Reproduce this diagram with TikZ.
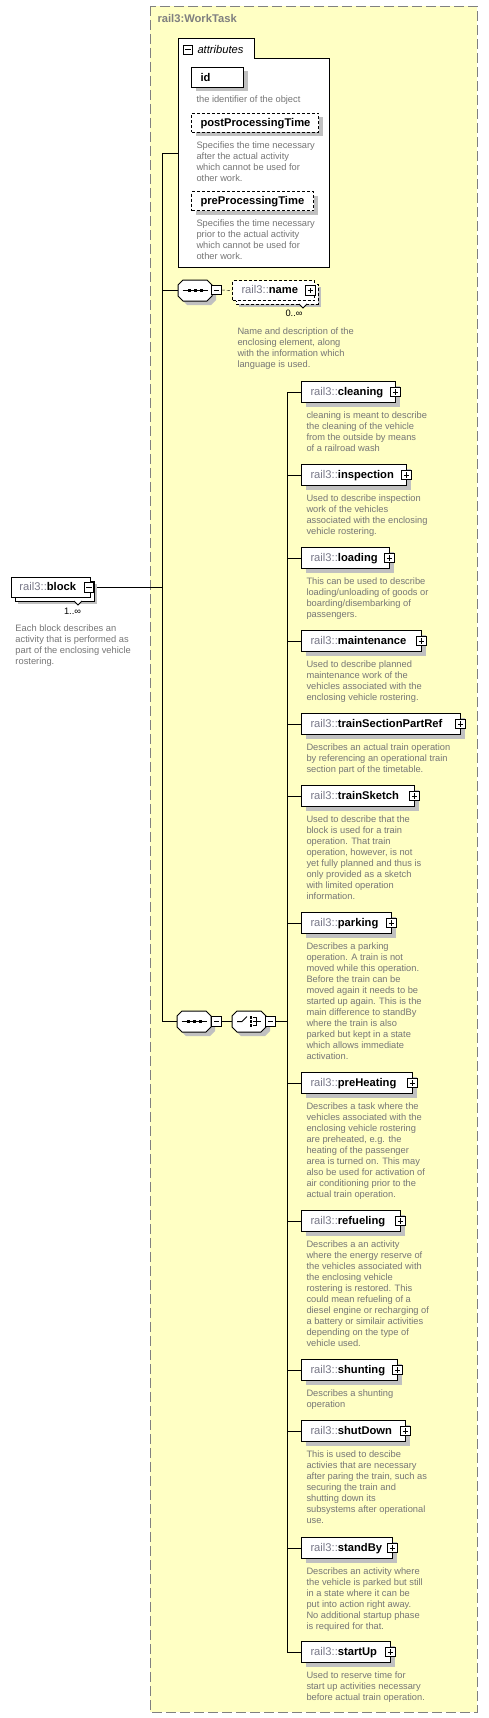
\documentclass[tikz,border=0pt]{standalone}
\usepackage{fontspec}
\setmainfont{Liberation Sans}
\usetikzlibrary{calc,shadows,backgrounds}
\definecolor{boxyellow}{RGB}{255,255,196}
\definecolor{framegray}{RGB}{128,128,128}
\definecolor{shadowgray}{RGB}{192,192,192}
\definecolor{desctext}{RGB}{118,118,118}
\definecolor{prefixgray}{RGB}{120,120,136}
\newcommand\descfont{\fontsize{9.3}{11}\selectfont}
\newcommand\lblfont{\fontsize{11.2}{13}\selectfont}
\newcommand\pfx[1]{\textcolor{prefixgray}{#1}}
\newcommand\dstrut{\rule{0pt}{8pt}}
\newcommand\plusat[2]{%
  \node[sqbox] (#1) at #2 {};
  \draw ($(#1.center)+(-2.75,0)$) -- ($(#1.center)+(2.75,0)$);
  \draw ($(#1.center)+(0,-2.75)$) -- ($(#1.center)+(0,2.75)$);}
\newcommand\minusat[2]{%
  \node[sqbox] (#1) at #2 {};
  \draw ($(#1.center)+(-2.75,0)$) -- ($(#1.center)+(2.75,0)$);}
\newcommand\octagon[1]{%
  \fill[shadowgray] ($(#1.north west)+(9,4)$) -- ($(#1.north east)+(-1,4)$) -- ($(#1.north east)+(4,9)$) -- ($(#1.south east)+(4,-1)$) -- ($(#1.south east)+(-1,4)$) -- ($(#1.south west)+(9,4)$) -- ($(#1.south west)+(4,-1)$) -- ($(#1.north west)+(4,9)$) -- cycle;
  \draw[fill=white] ($(#1.north west)+(5,0)$) -- ($(#1.north east)+(-5,0)$) -- ($(#1.north east)+(0,5)$) -- ($(#1.south east)+(0,-5)$) -- ($(#1.south east)+(-5,0)$) -- ($(#1.south west)+(5,0)$) -- ($(#1.south west)+(0,-5)$) -- ($(#1.north west)+(0,5)$) -- cycle;}
\newcommand\seqicon[1]{%
  \draw ($(#1.west)+(4.5,0)$) -- ($(#1.east)+(-4.5,0)$);
  \foreach \dx in {-6,0,6} \fill ($(#1.center)+(\dx-1.5,-1.5)$) rectangle ++(3,3);}
\newcommand\choiceicon[1]{%
  \draw ($(#1.center)+(-12,0)$) -- ($(#1.center)+(-7,0)$) -- ($(#1.center)+(-2,-5)$);
  \foreach \dy in {-4,0,4} \fill ($(#1.center)+(0.5,\dy-1.25)$) rectangle ++(2.5,2.5);
  \draw ($(#1.center)+(4,-4)$) -- ($(#1.center)+(7,-4)$) -- ($(#1.center)+(7,4)$) -- ($(#1.center)+(4,4)$);
  \draw ($(#1.center)+(4,0)$) -- ($(#1.center)+(12,0)$);}
\newcommand\elem[4]{%
  \node[elbox, minimum width=#3pt] (#1) at (301,#2) {};
  \node[lbl] (#1-l) at ($(#1.west)+(9,1)$) {\pfx{rail3::}\textbf{#1}};
  \plusat{#1-p}{($(#1.east)+(-0.5,0)$)}
  \node[desc] (#1-d) at ($(#1.south west)+(5,6.5)$) {\dstrut #4};}
\begin{document}
\begin{tikzpicture}[x=1pt, y=-1pt, line width=1pt,
  elbox/.style={draw=black, fill=white, minimum height=21pt, inner sep=0pt, anchor=north west,
    general shadow={fill=shadowgray, shadow xshift=4pt, shadow yshift=-4pt}},
  attbox/.style={elbox, minimum height=20pt},
  stackfront/.style={draw=black, fill=white, inner sep=0pt, anchor=north west},
  dashbox/.style={dash pattern=on 3pt off 2pt},
  lbl/.style={inner sep=0pt, anchor=west, font=\lblfont, text height=8pt, text depth=2.5pt},
  desc/.style={inner sep=0pt, anchor=north west, align=left, font=\descfont, text=desctext},
  sqbox/.style={draw=black, fill=white, minimum size=9.5pt, inner sep=0pt},
  card/.style={inner sep=0pt, font=\descfont, text height=7pt, text depth=2pt},
  octnode/.style={inner sep=0pt, minimum width=33pt, minimum height=20pt, anchor=north west}]
\useasboundingbox (0,0) rectangle (488,1718);
\begin{scope}[on background layer]
  \fill[white] (0,0) rectangle (488,1718);
  \fill[boxyellow] (150,6) rectangle (477,1712);
  \draw[framegray, dash pattern=on 10pt off 4pt] (150,6) rectangle (477,1712);
\end{scope}
\node[lbl, font=\lblfont\bfseries, text=framegray] (hdr) at (157,20) {rail3:WorkTask};
% attributes
\draw[fill=white] (178,267) -- (178,39) -- (254,39) -- (254,59) -- (329,59) -- (329,267) -- cycle;
\node[inner sep=0pt, minimum width=151pt, minimum height=208pt, anchor=north west] (attr) at (178,59) {};
\coordinate (attrjoin) at (178,153);
\minusat{attr-m}{(188,50)}
\node[lbl, font=\lblfont\itshape] (attr-l) at (197,50.5) {attributes};
\node[attbox, minimum width=52pt] (id) at (191,67) {};
\node[lbl, font=\lblfont\bfseries] (id-l) at ($(id.west)+(9,1)$) {id};
\node[desc] (id-d) at (196,94.5) {\dstrut the identifier of the object};
\node[attbox, dashbox, minimum width=127pt, minimum height=19pt] (post) at (191,113) {};
\node[lbl, font=\lblfont\bfseries] (post-l) at ($(post.west)+(9,1)$) {postProcessingTime};
\node[desc] (post-d) at (196,139.5) {\dstrut Specifies the time necessary\\after the actual activity\\which cannot be used for\\other work.};
\node[attbox, dashbox, minimum width=122pt, minimum height=19pt] (pre) at (191,191) {};
\node[lbl, font=\lblfont\bfseries] (pre-l) at ($(pre.west)+(9,1)$) {preProcessingTime};
\node[desc] (pre-d) at (196,217.5) {\dstrut Specifies the time necessary\\prior to the actual activity\\which cannot be used for\\other work.};
% sequence 1 and name
\node[octnode] (seq1) at (178,280) {};
\octagon{seq1}
\seqicon{seq1}
\minusat{seq1-m}{(216.5,290)}
\fill[shadowgray] (239,287) rectangle (321,307);
\draw[fill=white, dashbox] (236,284) rectangle (318,304);
\draw[fill=white] (299,304) -- (303,308) -- (307,304);
\node[stackfront, dashbox, minimum width=82pt, minimum height=20pt] (name) at (232,280) {};
\node[lbl] (name-l) at (241,291) {\pfx{rail3::}\textbf{name}};
\plusat{name-p}{(310.5,290.5)}
\node[card] (name-c) at (294,314) {0..∞};
\node[desc] (name-d) at (237,325.5) {\dstrut Name and description of the\\enclosing element, along\\with the information which\\language is used.};
% block
\fill[shadowgray] (18,584) rectangle (97,604);
\draw[fill=white] (15,581) rectangle (94,601);
\draw[fill=white] (74,601) -- (78,605) -- (82,601);
\node[stackfront, minimum width=79pt, minimum height=20pt] (block) at (11,577) {};
\node[lbl] (block-l) at (19,588) {\pfx{rail3::}\textbf{block}};
\minusat{block-m}{(89,587.5)}
\node[card] (block-c) at (72.5,612) {1..∞};
\node[desc] (block-d) at (15,622.5) {\dstrut Each block describes an\\activity that is performed as\\part of the enclosing vehicle\\rostering.};
% sequence 2 and choice
\node[octnode] (seq2) at (177,1011) {};
\octagon{seq2}
\seqicon{seq2}
\minusat{seq2-m}{(216.5,1021.5)}
\node[octnode] (choice) at (232,1011) {};
\octagon{choice}
\choiceicon{choice}
\minusat{choice-m}{(270.5,1021.5)}
% elements
\elem{cleaning}{381}{94}{cleaning is meant to describe\\the cleaning of the vehicle\\from the outside by means\\of a railroad wash}
\elem{inspection}{464}{105}{Used to describe inspection\\work of the vehicles\\associated with the enclosing\\vehicle rostering.}
\elem{loading}{547}{88}{This can be used to describe\\loading/unloading of goods or\\boarding/disembarking of\\passengers.}
\elem{maintenance}{630}{120}{Used to describe planned\\maintenance work of the\\vehicles associated with the\\enclosing vehicle rostering.}
\elem{trainSectionPartRef}{713}{159}{Describes an actual train operation\\by referencing an operational train\\section part of the timetable.}
\elem{trainSketch}{785}{113}{Used to describe that the\\block is used for a train\\operation. That train\\operation, however, is not\\yet fully planned and thus is\\only provided as a sketch\\with limited operation\\information.}
\elem{parking}{912}{90}{Describes a parking\\operation. A train is not\\moved while this operation.\\Before the train can be\\moved again it needs to be\\started up again. This is the\\main difference to standBy\\where the train is also\\parked but kept in a state\\which allows immediate\\activation.}
\elem{preHeating}{1072}{111}{Describes a task where the\\vehicles associated with the\\enclosing vehicle rostering\\are preheated, e.g. the\\heating of the passenger\\area is turned on. This may\\also be used for activation of\\air conditioning prior to the\\actual train operation.}
\elem{refueling}{1210}{99}{Describes a an activity\\where the energy reserve of\\the vehicles associated with\\the enclosing vehicle\\rostering is restored. This\\could mean refueling of a\\diesel engine or recharging of\\a battery or similair activities\\depending on the type of\\vehicle used.}
\elem{shunting}{1359}{96}{Describes a shunting\\operation}
\elem{shutDown}{1420}{104}{This is used to descibe\\activies that are necessary\\after paring the train, such as\\securing the train and\\shutting down its\\subsystems after operational\\use.}
\elem{standBy}{1537}{91}{Describes an activity where\\the vehicle is parked but still\\in a state where it can be\\put into action right away.\\No additional startup phase\\is required for that.}
\elem{startUp}{1641}{89}{Used to reserve time for\\start up activities necessary\\before actual train operation.}
% connectors
\coordinate (trx) at (162,153);
\coordinate (chx) at (287,391);
\begin{scope}[on background layer]
  \draw (trx) -- (attrjoin);
  \draw (trx) -- (trx |- seq2.west);
  \draw (block-m.east) -- (block-m.east -| trx);
  \draw (trx |- seq1.west) -- (seq1.west);
  \draw (trx |- seq2.west) -- (seq2.west);
  \draw[dashbox] (seq1-m.east) -- (name.west);
  \draw (seq2-m.east) -- (choice.west);
  \draw (choice-m.east) -- (chx |- choice-m.east);
  \draw (chx |- cleaning.west) -- (chx |- startUp.west);
  \foreach \e in {cleaning,inspection,loading,maintenance,trainSectionPartRef,trainSketch,parking,preHeating,refueling,shunting,shutDown,standBy,startUp}
    \draw (chx |- \e.west) -- (\e.west);
\end{scope}
\end{tikzpicture}
\end{document}
